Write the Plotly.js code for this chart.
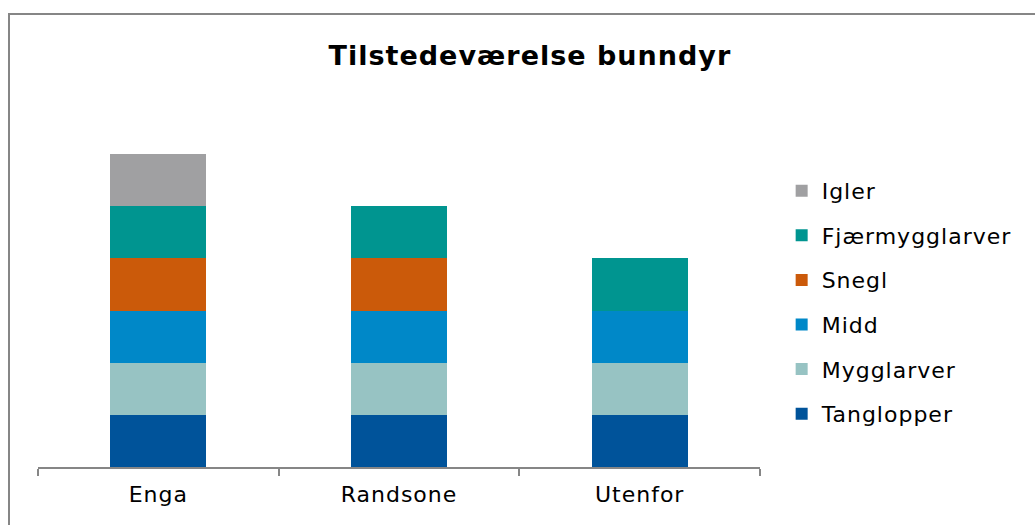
<!DOCTYPE html>
<html><head><meta charset="utf-8">
<script src="https://cdn.plot.ly/plotly-3.0.1.min.js"></script>
<style>
html,body{margin:0;padding:0;background:#fff;overflow:hidden;}
#frame{position:absolute;left:8px;top:13px;width:1200px;height:700px;border-left:2px solid #868686;border-top:2px solid #868686;box-sizing:border-box;pointer-events:none;z-index:5;}
#chart{position:absolute;left:0;top:0;width:1035px;height:525px;}
svg text{letter-spacing:1px;}
</style></head>
<body>
<div id="chart"></div>
<div id="frame"></div>
<script>
const categories = ["Enga", "Randsone", "Utenfor"];
const seriesNames = ["Tanglopper", "Mygglarver", "Midd", "Snegl", "Fjærmygglarver", "Igler"];
const tanglopper = [1, 1, 1];
const mygglarver = [1, 1, 1];
const midd = [1, 1, 1];
const snegl = [1, 1, 0];
const fjaermygglarver = [1, 1, 1];
const igler = [1, 0, 0];
const colors = ["#00539A", "#97C3C3", "#0088C8", "#CB5A0A", "#009590", "#A0A0A2"];

const values = [tanglopper, mygglarver, midd, snegl, fjaermygglarver, igler];
const traces = values.map((v, i) => ({
  type: "bar",
  name: seriesNames[i],
  x: categories,
  y: v,
  width: 0.4,
  legendgroup: "g" + i,
  legendrank: 100 - i,
  marker: {color: colors[i], line: {width: 0}},
  hoverinfo: "name+y"
}));

const layout = {
  width: 1035, height: 525,
  margin: {l: 38, r: 275, t: 102, b: 58},
  paper_bgcolor: "#fff", plot_bgcolor: "#fff",
  barmode: "stack",
  font: {family: "DejaVu Sans, Verdana, sans-serif", color: "#000"},
  title: {text: "<b>Tilstedeværelse bunndyr</b>", x: 0.512, xanchor: "center", y: 0.895, yanchor: "middle",
          font: {size: 27, family: "DejaVu Sans, Verdana, sans-serif", color: "#000"}},
  xaxis: {
    showline: true, linecolor: "#868686", linewidth: 2,
    ticks: "outside", ticklen: 7, tickcolor: "#868686", tickwidth: 2,
    tickson: "boundaries",
    ticklabelstandoff: 7,
    showgrid: false, zeroline: false,
    tickfont: {size: 22, color: "#000"},
    range: [-0.5, 2.5]
  },
  yaxis: {range: [0, 7], visible: false, showgrid: false, zeroline: false},
  legend: {
    x: 1.03, xanchor: "left", y: 0.814, yanchor: "top",
    traceorder: "grouped", tracegroupgap: 13,
    font: {size: 22, color: "#000"},
    bgcolor: "rgba(0,0,0,0)"
  },
  showlegend: true
};

Plotly.newPlot("chart", traces, layout, {displayModeBar: false, staticPlot: true});
</script>
</body></html>
